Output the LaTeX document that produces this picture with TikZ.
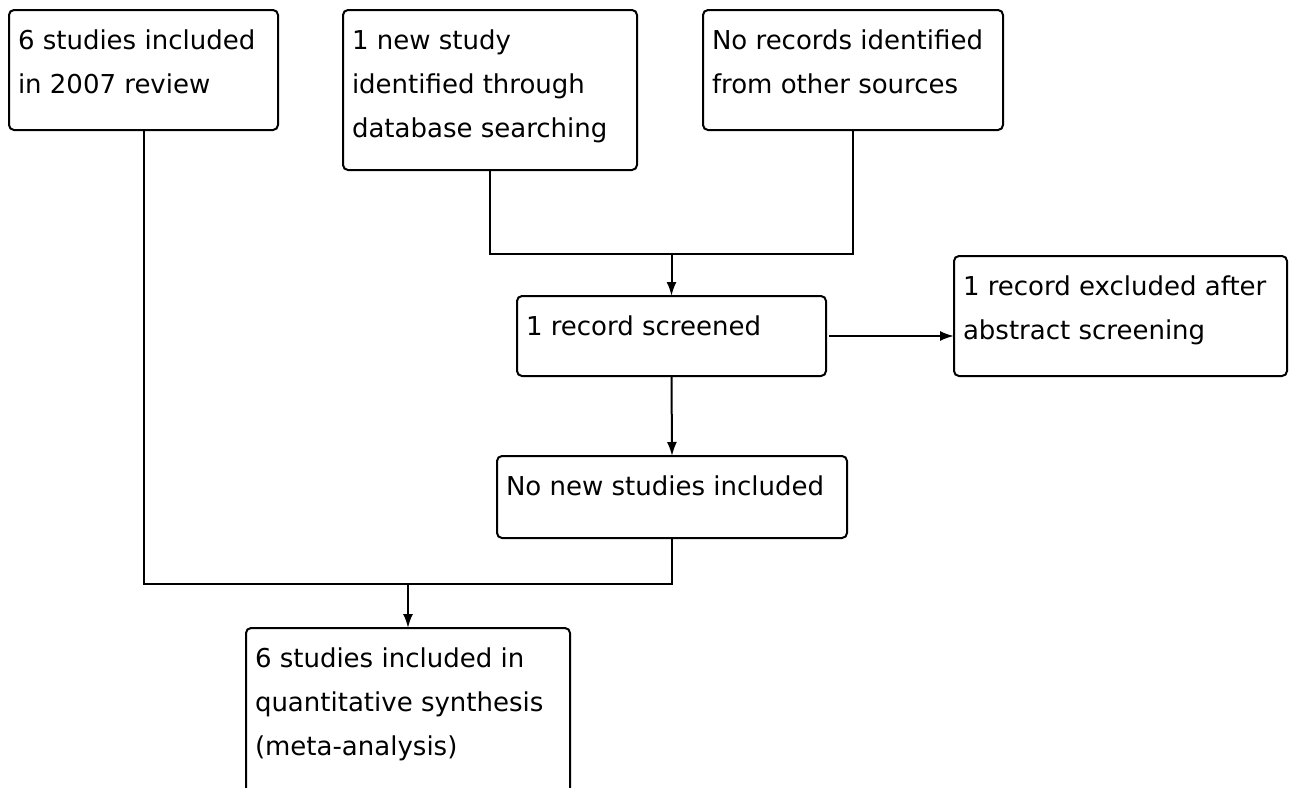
\documentclass[tikz,border=0pt]{standalone}
\usepackage{fontspec}
\setmainfont{DejaVu Sans}
\usetikzlibrary{arrows.meta}
\newcommand\boxtxt[3]{\parbox[t][#1][t]{#2}{\fontsize{26}{44}\selectfont\raggedright\rule{0pt}{39pt}#3}}
\begin{document}
\begin{tikzpicture}[x=1pt,y=-1pt,
  box/.style={draw, line width=2pt, rounded corners=5pt, anchor=north west,
    inner xsep=9pt, inner ysep=0pt, outer sep=0pt, fill=white},
  link/.style={line width=2pt},
  arr/.style={line width=2pt, -{Latex[length=14pt,width=10pt]}}]
\useasboundingbox[fill=white] (0,0) rectangle (1289,787);
\node[box] (A) at (9,10)   {\boxtxt{120pt}{251pt}{6 studies included\\in 2007 review}};
\node[box] (B) at (343,10) {\boxtxt{160pt}{276pt}{1 new study\\identified through\\database searching}};
\node[box] (C) at (703,10) {\boxtxt{120pt}{282pt}{No records identified\\from other sources}};
\node[box] (D) at (517,296) {\boxtxt{80pt}{291pt}{1 record screened}};
\node[box] (E) at (954,256) {\boxtxt{120pt}{315pt}{1 record excluded after\\abstract screening}};
\node[box] (F) at (497,456) {\boxtxt{82pt}{332pt}{No new studies included}};
\node[box] (G) at (246,628) {\boxtxt{180pt}{306pt}{6 studies included in\\quantitative synthesis\\(meta-analysis)}};
\coordinate (j1) at (D.north |- 0,254);
\coordinate (j2) at (G.north |- 0,584);
\draw[link] (B.south) |- (j1) -| (C.south);
\draw[arr] (j1) -- (D.north);
\draw[arr] (D.east) ++(3,0) -- (D.east -| E.west);
\draw[arr] (D.south) -- (F.north);
\draw[link] (A.south) |- (j2) -| (F.south);
\draw[arr] (j2) -- (G.north);
\end{tikzpicture}
\end{document}
